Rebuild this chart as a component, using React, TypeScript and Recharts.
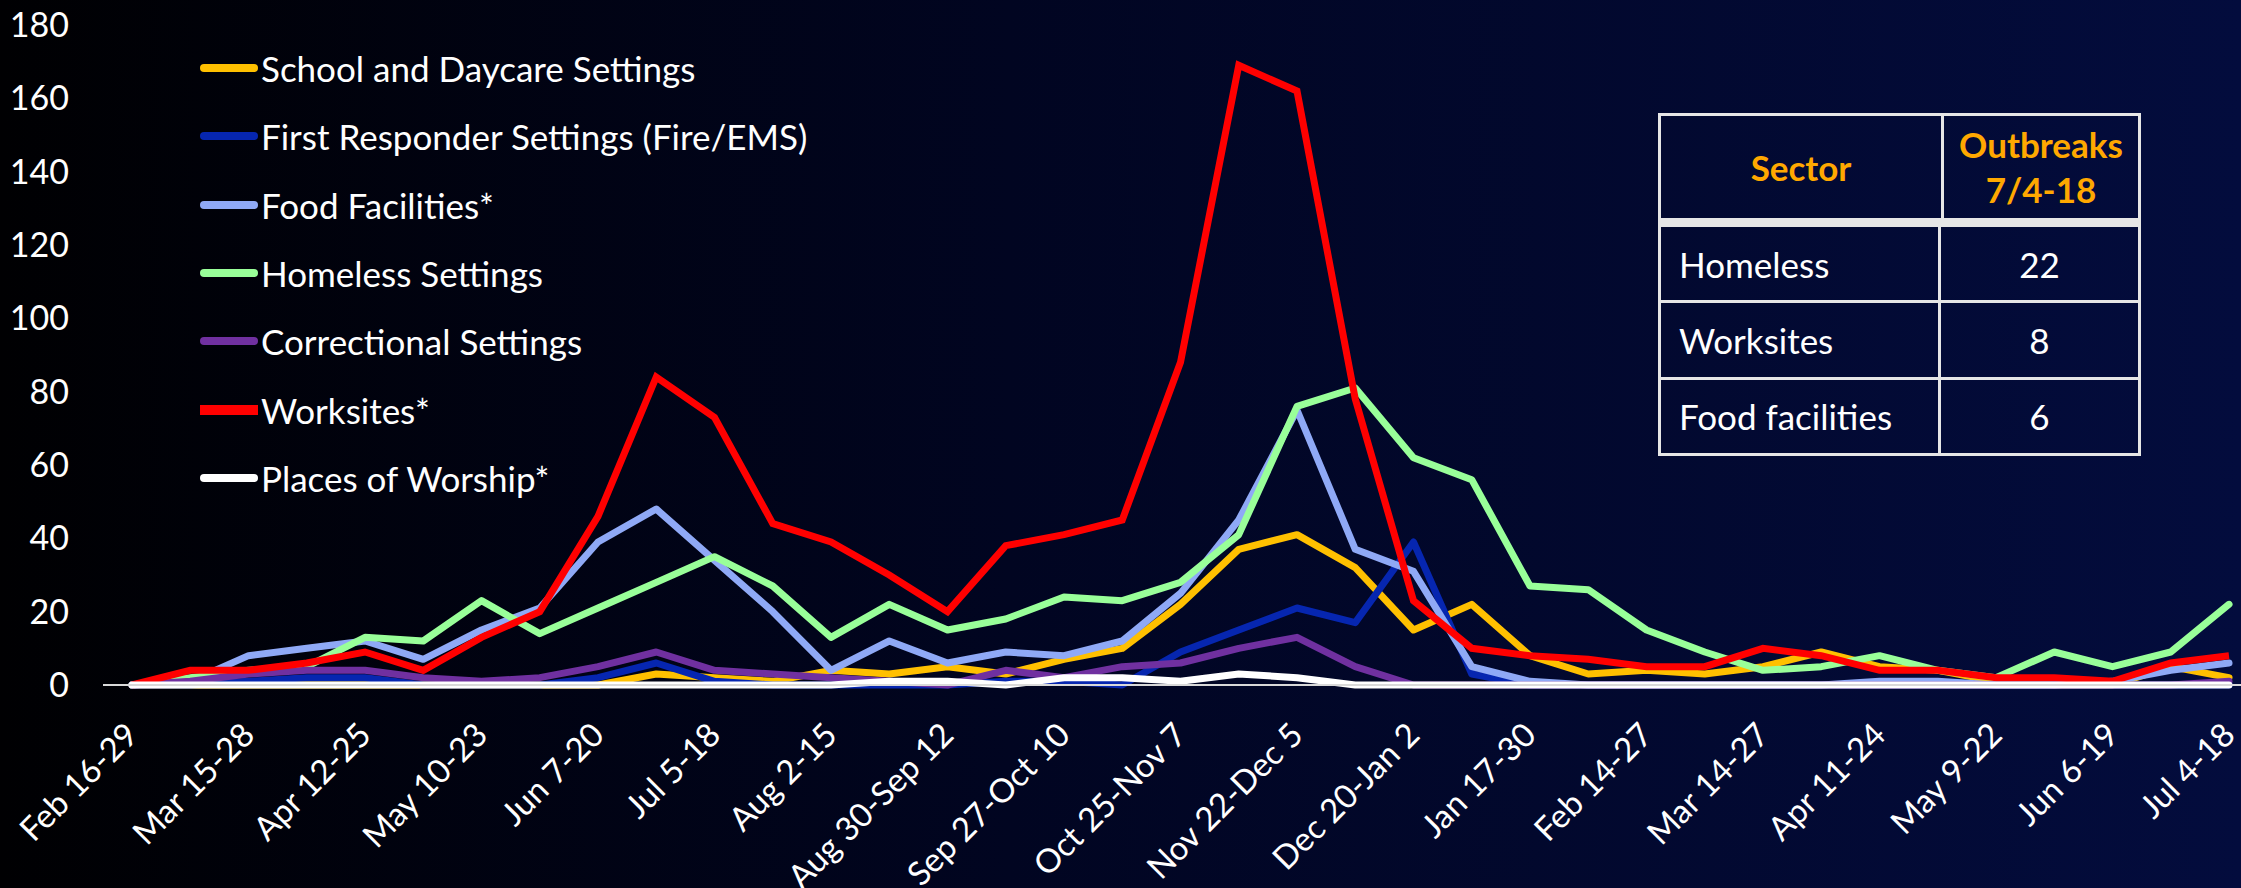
import React from "react";
import { Legend, Line, LineChart, XAxis, YAxis } from "recharts";

const FONT = "Lato, 'Open Sans', sans-serif";

// two-week periods, Feb 2020 - Jul 2021
const periods = [
  "Feb 16-29", "Mar 1-14", "Mar 15-28", "Mar 29-Apr 11", "Apr 12-25", "Apr 26-May 9",
  "May 10-23", "May 24-Jun 6", "Jun 7-20", "Jun 21-Jul 4", "Jul 5-18", "Jul 19-Aug 1",
  "Aug 2-15", "Aug 16-29", "Aug 30-Sep 12", "Sep 13-26", "Sep 27-Oct 10", "Oct 11-24",
  "Oct 25-Nov 7", "Nov 8-21", "Nov 22-Dec 5", "Dec 6-19", "Dec 20-Jan 2", "Jan 3-16",
  "Jan 17-30", "Jan 31-Feb 13", "Feb 14-27", "Feb 28-Mar 13", "Mar 14-27", "Mar 28-Apr 10",
  "Apr 11-24", "Apr 25-May 8", "May 9-22", "May 23-Jun 5", "Jun 6-19", "Jun 20-Jul 3",
  "Jul 4-18",
];

const school = [0, 0, 0, 0, 0, 0, 0, 0, 0, 3, 2, 1, 4, 3, 5, 3, 7, 10, 22, 37, 41, 32, 15, 22, 8, 3, 4, 3, 5, 9, 5, 4, 1, 0, 0, 5, 2];
const firstResponder = [0, 0, 1, 2, 2, 0, 0, 0, 2, 6, 1, 0, 0, 0, 0, 1, 1, 0, 9, 15, 21, 17, 39, 3, 0, 0, 0, 0, 0, 0, 0, 0, 0, 0, 0, 0, 0];
const food = [0, 1, 8, 10, 12, 7, 15, 21, 39, 48, 34, 20, 4, 12, 6, 9, 8, 12, 25, 45, 75, 37, 31, 5, 1, 0, 0, 0, 0, 0, 1, 1, 0, 0, 1, 4, 6];
const homeless = [0, 2, 4, 5, 13, 12, 23, 14, 21, 28, 35, 27, 13, 22, 15, 18, 24, 23, 28, 41, 76, 81, 62, 56, 27, 26, 15, 9, 4, 5, 8, 4, 2, 9, 5, 9, 22];
const correctional = [0, 1, 3, 4, 4, 2, 1, 2, 5, 9, 4, 3, 2, 1, 0, 4, 2, 5, 6, 10, 13, 5, 0, 0, 0, 0, 0, 0, 0, 0, 0, 0, 0, 0, 0, 0, 1];
const worksites = [0, 4, 4, 6, 9, 4, 13, 20, 46, 84, 73, 44, 39, 30, 20, 38, 41, 45, 88, 169, 162, 78, 23, 10, 8, 7, 5, 5, 10, 8, 4, 4, 2, 2, 1, 6, 8];
const worship = [0, 0, 0, 0, 0, 0, 0, 0, 0, 0, 0, 0, 0, 1, 1, 0, 2, 2, 1, 3, 2, 0, 0, 0, 0, 0, 0, 0, 0, 0, 0, 0, 0, 0, 0, 0, 0];

const yTicks = [0, 20, 40, 60, 80, 100, 120, 140, 160, 180];

const tableHeader = ["Sector", "Outbreaks", "7/4-18"];
const tableSectors = ["Homeless", "Worksites", "Food facilities"];
const tableCounts = [22, 8, 6];

const series = [
  { key: "school", name: "School and Daycare Settings", color: "#FFC000", values: school },
  { key: "firstResponder", name: "First Responder Settings (Fire/EMS)", color: "#0626B0", values: firstResponder },
  { key: "food", name: "Food Facilities*", color: "#8FA9F6", values: food },
  { key: "homeless", name: "Homeless Settings", color: "#99FF99", values: homeless },
  { key: "correctional", name: "Correctional Settings", color: "#7030A0", values: correctional },
  { key: "worksites", name: "Worksites*", color: "#FF0000", values: worksites },
  { key: "worship", name: "Places of Worship*", color: "#FFFFFF", values: worship },
];

const data = periods.map((period, i) => {
  const row: Record<string, string | number> = { period };
  series.forEach((s) => {
    row[s.key] = s.values[i];
  });
  return row;
});

function PeriodTick({ x, y, payload }: any) {
  const ax = x + 8;
  const ay = y + 52;
  return (
    <text
      x={ax}
      y={ay}
      transform={`rotate(-45 ${ax} ${ay})`}
      textAnchor="end"
      fill="#FFFFFF"
      fontSize={33}
      fontFamily={FONT}
    >
      {payload.value}
    </text>
  );
}

function SectorLegend({ payload }: any) {
  const items = series
    .map((s) => (payload || []).find((p: any) => p.dataKey === s.key || p.value === s.name))
    .filter(Boolean);
  return (
    <div style={{ position: "relative" }}>
      {items.map((item: any, k: number) => (
        <div
          key={item.value}
          style={{
            position: "absolute",
            left: 200,
            top: 68 + k * 68.3 - 25,
            height: 50,
            display: "flex",
            alignItems: "center",
            whiteSpace: "nowrap",
          }}
        >
          <span
            style={{
              display: "inline-block",
              width: 58,
              height: item.dataKey === "worksites" ? 10 : 8,
              borderRadius: item.dataKey === "worksites" ? 0 : 4,
              background: item.color,
            }}
          />
          <span style={{ marginLeft: 3, color: "#FFFFFF", fontSize: 35, fontFamily: FONT }}>
            {item.value}
          </span>
        </div>
      ))}
    </div>
  );
}

const cellBorder = "3px solid #E6E6E6";

function OutbreakTable() {
  const orange = { color: "#FFA800", fontWeight: 700, fontSize: 35 };
  return (
    <div
      style={{
        position: "absolute",
        left: 1658,
        top: 113,
        width: 483,
        height: 343,
        boxSizing: "border-box",
        border: cellBorder,
        fontFamily: FONT,
        color: "#FFFFFF",
        display: "flex",
        flexDirection: "column",
      }}
    >
      <div style={{ display: "flex", height: 102, borderBottom: "9px solid #E6E6E6" }}>
        <div
          style={{
            width: 280,
            borderRight: cellBorder,
            display: "flex",
            alignItems: "center",
            justifyContent: "center",
            ...orange,
          }}
        >
          {tableHeader[0]}
        </div>
        <div
          style={{
            flex: 1,
            display: "flex",
            flexDirection: "column",
            alignItems: "center",
            justifyContent: "center",
            lineHeight: "45px",
            ...orange,
          }}
        >
          <span>{tableHeader[1]}</span>
          <span>{tableHeader[2]}</span>
        </div>
      </div>
      {tableSectors.map((sector, i) => (
        <div
          key={sector}
          style={{
            display: "flex",
            flex: 1,
            borderTop: i === 0 ? "none" : cellBorder,
            fontSize: 35,
          }}
        >
          <div
            style={{
              width: 280,
              borderRight: cellBorder,
              display: "flex",
              alignItems: "center",
              paddingLeft: 18,
              boxSizing: "border-box",
            }}
          >
            {sector}
          </div>
          <div style={{ flex: 1, display: "flex", alignItems: "center", justifyContent: "center" }}>
            {tableCounts[i]}
          </div>
        </div>
      ))}
    </div>
  );
}

export default function App() {
  return (
    <div
      style={{
        position: "absolute",
        left: 0,
        top: 0,
        width: 2241,
        height: 888,
        overflow: "hidden",
        background: "linear-gradient(90deg, #000002 0%, #010521 45%, #030C3D 100%)",
      }}
    >
      <LineChart width={2241} height={888} data={data} margin={{ top: 25, right: 0, bottom: 0, left: 0 }}>
        <XAxis
          dataKey="period"
          interval={1}
          height={203}
          padding={{ left: 29, right: 12 }}
          axisLine={{ stroke: "#D9D9D9", strokeWidth: 2 }}
          tickLine={false}
          tickSize={0}
          tickMargin={0}
          tick={<PeriodTick />}
        />
        <YAxis
          domain={[0, 180]}
          ticks={yTicks}
          width={103}
          axisLine={false}
          tickLine={false}
          tickSize={0}
          tickMargin={34}
          tick={{ fill: "#FFFFFF", fontSize: 34, fontFamily: FONT }}
        />
        <Legend
          layout="horizontal"
          verticalAlign="middle"
          align="center"
          content={<SectorLegend />}
          wrapperStyle={{ left: 0, top: 0, width: 0, height: 0, overflow: "visible" }}
        />
        {series.map((s) => (
          <Line
            key={s.key}
            type="linear"
            dataKey={s.key}
            name={s.name}
            stroke={s.color}
            strokeWidth={7}
            strokeLinecap={s.key === "worksites" ? "butt" : "round"}
            strokeLinejoin={s.key === "worksites" ? "miter" : "round"}
            dot={false}
            activeDot={false}
            isAnimationActive={false}
          />
        ))}
      </LineChart>
      <OutbreakTable />
    </div>
  );
}
